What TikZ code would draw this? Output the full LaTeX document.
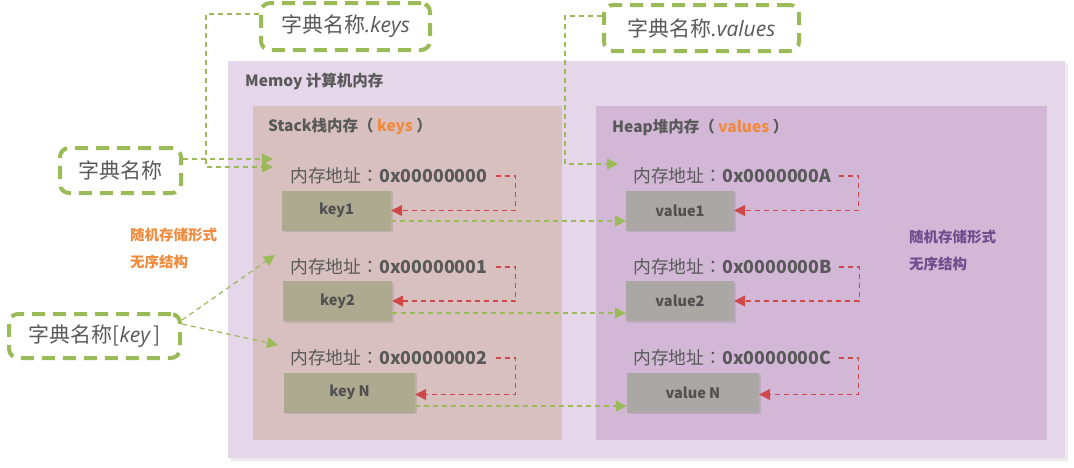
\documentclass[tikz,border=0pt]{standalone}
\usepackage{fontspec}
\setmainfont{Noto Sans CJK SC}
\newfontfamily\latinit{Open Sans}
\newfontfamily\tcpunct{Noto Sans CJK TC}
\usetikzlibrary{arrows.meta, shadows, calc}

\definecolor{memback}{HTML}{E5D6E9}
\definecolor{stackback}{HTML}{D8BFC0}
\definecolor{heapback}{HTML}{D2B7D7}
\definecolor{keyfill}{HTML}{ADAA90}
\definecolor{valfill}{HTML}{ABA7A4}
\definecolor{dictgreen}{HTML}{9BBB59}
\definecolor{linkred}{HTML}{D04848}
\definecolor{textgray}{HTML}{595959}
\definecolor{hiorange}{HTML}{F08A3C}
\definecolor{hipurple}{HTML}{6E4E8C}

\newcommand{\addrtext}[1]{内存地址{\tcpunct ：}\textbf{#1}}

\tikzset{
    dictbox/.style={draw=dictgreen, line width=4pt, dash pattern=on 13pt off 8pt, rounded corners=9pt, text=textgray, font=\fontsize{21}{21}\selectfont, inner xsep=0pt},
    keybox/.style={fill=keyfill, minimum height=40pt, text=textgray!90!black, font=\fontsize{14.5}{14.5}\selectfont\bfseries, drop shadow={opacity=0.25, shadow xshift=1.5pt, shadow yshift=-1.5pt}},
    valbox/.style={keybox, fill=valfill},
    addr/.style={anchor=west, text=textgray, font=\fontsize{17.8}{17.8}\selectfont, inner sep=0pt},
    greenlink/.style={draw=dictgreen, line width=1.2pt, dash pattern=on 5pt off 4pt, -{Triangle[length=11pt, width=11pt]}},
    redlink/.style={draw=linkred, line width=1.2pt, dash pattern=on 5pt off 4pt, -{Triangle[length=11pt, width=11pt]}},
    title/.style={anchor=west, text=textgray, font=\fontsize{15.5}{15.5}\selectfont\bfseries, inner sep=0pt},
    note/.style={anchor=west, font=\fontsize{14.5}{27}\selectfont\bfseries, align=left, inner sep=0pt}
}

\begin{document}
\begin{tikzpicture}[x=1pt, y=-1pt]
        \useasboundingbox (0, 0) rectangle (1074, 467);
        
        % memory areas
        \fill[memback, drop shadow={opacity=0.15}] (228, 61) rectangle (1065, 458);
        \fill[stackback] (253, 106) rectangle (562, 440);
        \fill[heapback] (596, 106) rectangle (1047, 440);
        \node[title] (memtitle) at (245, 81) {Memoy 计算机内存};
        \node[title] (stacktitle) at (268, 127) {Stack栈内存（ \textcolor{hiorange}{keys} ）};
        \node[title] (heaptitle) at (612, 127) {Heap堆内存（ \textcolor{hiorange}{values} ）};
        
        % keys
        \node[addr] (a1) at (290, 176) {\addrtext{0x00000000}};
        \node[addr] (a2) at (290, 267) {\addrtext{0x00000001}};
        \node[addr] (a3) at (290, 358) {\addrtext{0x00000002}};
        \node[keybox, minimum width=109pt] (k1) at (336.5, 210.5) {key1};
        \node[keybox, minimum width=109pt] (k2) at (337.5, 301) {key2};
        \node[keybox, minimum width=131pt] (kN) at (349.5, 392.5) {key N};
        
        % values
        \node[addr] (b1) at (633, 176) {\addrtext{0x0000000A}};
        \node[addr] (b2) at (633, 267) {\addrtext{0x0000000B}};
        \node[addr] (b3) at (633, 358) {\addrtext{0x0000000C}};
        \node[valbox, minimum width=108pt] (v1) at (680, 210.5) {value1};
        \node[valbox, minimum width=108pt] (v2) at (680, 301) {value2};
        \node[valbox, minimum width=132pt] (vN) at (693, 392.5) {value N};
        
        % address -> content
        \draw[redlink] ([xshift=8pt]a1.east) -- ++(20, 0) |- (k1.east);
        \draw[redlink] ([xshift=8pt]a2.east) -- ++(20, 0) |- (k2.east);
        \draw[redlink] ([xshift=8pt]a3.east) -- ++(20, 0) |- ([yshift=-2pt]kN.east);
        \draw[redlink] ([xshift=7pt]b1.east) -- ++(20, 0) |- (v1.east);
        \draw[redlink] ([xshift=7pt]b2.east) -- ++(20, 0) |- (v2.east);
        \draw[redlink] ([xshift=7pt]b3.east) -- ++(20, 0) |- ([yshift=-2pt]vN.east);
        
        % key -> value
        \draw[greenlink] ([yshift=-10.5pt]k1.east) -- ([yshift=-10.5pt]v1.west);
        \draw[greenlink] ([yshift=-12pt]k2.east) -- ([yshift=-12pt]v2.west);
        \draw[greenlink] ([yshift=-13.5pt]kN.east) -- ([yshift=-13.5pt]vN.west);
        
        % dictionary access
        \node[dictbox, minimum width=121pt, minimum height=45pt] (dict) at (120.5, 170.5) {字典名称};
        \node[dictbox, minimum width=169pt, minimum height=47pt] (dkeys) at (345.5, 26.5) {字典名称{\latinit\itshape .keys}};
        \node[dictbox, minimum width=195pt, minimum height=46pt] (dvals) at (701.5, 28) {字典名称{\latinit\itshape .values}};
        \node[dictbox, minimum width=171pt, minimum height=44pt] (ditem) at (94.5, 336) {字典名称[{\latinit\itshape key\,}]};
        \coordinate (keytip) at (273, 159);
        \coordinate (keytip2) at (273, 167);
        \coordinate (valtip) at (618, 164);
        \coordinate (k2tip) at (275, 255);
        \coordinate (kNtip) at (278, 345);
        
        \draw[greenlink] ([yshift=11.5pt]dict.east) -- (keytip);
        \draw[greenlink] ([yshift=12.5pt]dkeys.west) -| (206, 167) -- (keytip2);
        \draw[greenlink] ([yshift=12pt]dvals.west) -| (565, 164) -- (valtip);
        \draw[greenlink] ([yshift=16pt]ditem.east) -- (k2tip);
        \draw[greenlink] ([yshift=12pt]ditem.east) -- (kNtip);
        
        % notes
        \node[note, text=hiorange] (knote) at (130, 248.5) {随机存储形式\\无序结构};
        \node[note, text=hipurple] (vnote) at (909, 250.5) {随机存储形式\\无序结构};
        
    \end{tikzpicture}
\end{document}
